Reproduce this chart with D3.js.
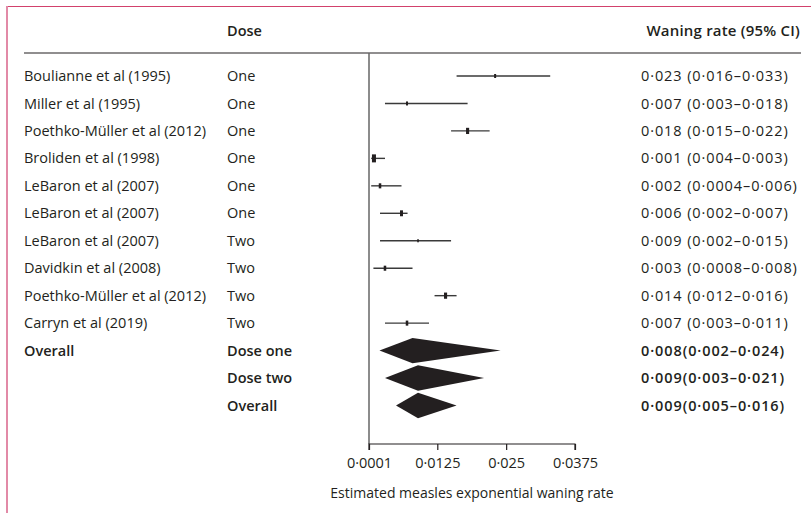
<!DOCTYPE html>
<html>
<head>
<meta charset="utf-8">
<script src="https://cdn.jsdelivr.net/npm/d3@7"></script>
<style>
  body { margin: 0; background: #fff; }
  text { font-family: "Open Sans", sans-serif; fill: #231f20; }
</style>
</head>
<body>
<div id="chart"></div>
<script>
// study rows
var studies = ["Boulianne et al (1995)", "Miller et al (1995)", "Poethko-Müller et al (2012)", "Broliden et al (1998)",
  "LeBaron et al (2007)", "LeBaron et al (2007)", "LeBaron et al (2007)", "Davidkin et al (2008)",
  "Poethko-Müller et al (2012)", "Carryn et al (2019)"];
var doses = ["One", "One", "One", "One", "One", "One", "Two", "Two", "Two", "Two"];
var estimates = [0.023, 0.007, 0.018, 0.001, 0.0021, 0.006, 0.009, 0.003, 0.014, 0.007];
var lower = [0.016, 0.003, 0.015, 0.0005, 0.0005, 0.0021, 0.0021, 0.0009, 0.012, 0.003];
var upper = [0.033, 0.018, 0.022, 0.003, 0.006, 0.0071, 0.015, 0.008, 0.016, 0.011];
var weights = [1, 1, 2.4, 4, 1.6, 2.2, 0.6, 1.6, 2.4, 1.6];
var rateLabels = ["0·023 (0·016–0·033)", "0·007 (0·003–0·018)", "0·018 (0·015–0·022)", "0·001 (0·004–0·003)",
  "0·002 (0·0004–0·006)", "0·006 (0·002–0·007)", "0·009 (0·002–0·015)", "0·003 (0·0008–0·008)",
  "0·014 (0·012–0·016)", "0·007 (0·003–0·011)"];

// pooled rows
var pooledNames = ["Dose one", "Dose two", "Overall"];
var pooledEst = [0.008, 0.009, 0.009];
var pooledLow = [0.002, 0.003, 0.005];
var pooledHigh = [0.024, 0.021, 0.016];
var pooledLabels = ["0·008(0·002–0·024)", "0·009(0·003–0·021)", "0·009(0·005–0·016)"];

var tickValues = [0.0001, 0.0125, 0.025, 0.0375];
var tickLabels = ["0·0001", "0·0125", "0·025", "0·0375"];

var width = 811, height = 513;
var fs = "14.5px";
var colStudy = 24, colDose = 227, colRate = 641;

var svg = d3.select("#chart").append("svg")
  .attr("width", width)
  .attr("height", height);

// frame
svg.append("line").attr("x1", 7).attr("x2", width).attr("y1", 6.5).attr("y2", 6.5)
  .attr("stroke", "#d2416c").attr("stroke-width", 1);
svg.append("line").attr("x1", 7).attr("x2", 7).attr("y1", 6).attr("y2", height)
  .attr("stroke", "#e28aa7").attr("stroke-width", 2);

var nRows = studies.length + pooledNames.length;
var yScale = d3.scalePoint()
  .domain(d3.range(nRows))
  .range([76, 405.5]);

var xScale = d3.scaleLinear()
  .domain([0.0001, 0.0375])
  .range([369, 575]);

// header
svg.append("text").attr("x", colDose).attr("y", 31).attr("dy", "0.35em")
  .style("font-size", fs).style("font-weight", "600").text("Dose");
svg.append("text").attr("x", 800).attr("y", 31).attr("dy", "0.35em").attr("text-anchor", "end")
  .style("font-size", "15px").style("font-weight", "600").style("letter-spacing", "0.2px")
  .text("Waning rate (95% CI)");
svg.append("line").attr("x1", 24).attr("x2", 801).attr("y1", 53).attr("y2", 53)
  .attr("stroke", "#231f20").attr("stroke-width", 1.2);

// vertical reference line
svg.append("line").attr("x1", xScale(0.0001)).attr("x2", xScale(0.0001))
  .attr("y1", 53).attr("y2", 444)
  .attr("stroke", "#666").attr("stroke-width", 1.5);

// x axis
var xAxis = d3.axisBottom(xScale)
  .tickValues(tickValues)
  .tickSize(6)
  .tickPadding(8)
  .tickFormat(function(d, i) { return tickLabels[i]; });

var axisG = svg.append("g")
  .attr("transform", "translate(0," + 444 + ")")
  .call(xAxis);
axisG.select(".domain").attr("stroke", "#231f20").attr("stroke-width", 1.2)
  .attr("d", "M" + xScale(0.0001) + ",6V0H" + xScale(0.0375) + "V6");
axisG.selectAll(".tick line").attr("stroke", "#231f20").attr("stroke-width", 1.2);
axisG.selectAll(".tick text").style("font-family", "'Open Sans', sans-serif").style("font-size", fs).attr("fill", "#231f20");

svg.append("text").attr("x", 472).attr("y", 493).attr("dy", "0.35em").attr("text-anchor", "middle")
  .style("font-size", "14px").text("Estimated measles exponential waning rate");

// study rows text
var rows = svg.selectAll(".study")
  .data(studies)
  .enter().append("g")
  .attr("class", "study");

rows.append("text").attr("x", colStudy).attr("y", function(d, i) { return yScale(i); }).attr("dy", "0.35em")
  .style("font-size", fs).text(function(d) { return d; });
rows.append("text").attr("x", colDose).attr("y", function(d, i) { return yScale(i); }).attr("dy", "0.35em")
  .style("font-size", fs).text(function(d, i) { return doses[i]; });
rows.append("text").attr("x", colRate).attr("y", function(d, i) { return yScale(i); }).attr("dy", "0.35em")
  .style("font-size", fs).style("letter-spacing", "0.9px").text(function(d, i) { return rateLabels[i]; });

// CI lines
rows.append("line")
  .attr("x1", function(d, i) { return xScale(lower[i]); })
  .attr("x2", function(d, i) { return xScale(upper[i]); })
  .attr("y1", function(d, i) { return yScale(i); })
  .attr("y2", function(d, i) { return yScale(i); })
  .attr("stroke", "#3a3a3a").attr("stroke-width", 1.4);

var sizeScale = d3.scaleSqrt().domain([0, 4]).range([0, 8]);
rows.append("rect")
  .attr("x", function(d, i) { return xScale(estimates[i]) - Math.max(1.5, sizeScale(weights[i]) / 2) / 2; })
  .attr("y", function(d, i) { return yScale(i) - sizeScale(weights[i]) / 2; })
  .attr("width", function(d, i) { return Math.max(1.5, sizeScale(weights[i]) / 2); })
  .attr("height", function(d, i) { return sizeScale(weights[i]); })
  .attr("fill", "#231f20");

// pooled rows
var offset = studies.length;
svg.append("text").attr("x", colStudy).attr("y", yScale(offset)).attr("dy", "0.35em")
  .style("font-size", fs).style("font-weight", "600").text("Overall");

var pooled = svg.selectAll(".pooled")
  .data(pooledNames)
  .enter().append("g")
  .attr("class", "pooled");

pooled.append("text").attr("x", colDose).attr("y", function(d, i) { return yScale(offset + i); }).attr("dy", "0.35em")
  .style("font-size", fs).style("font-weight", "600").text(function(d) { return d; });
pooled.append("text").attr("x", colRate).attr("y", function(d, i) { return yScale(offset + i); }).attr("dy", "0.35em")
  .style("font-size", fs).style("font-weight", "600").style("letter-spacing", "0.9px")
  .text(function(d, i) { return pooledLabels[i]; });

var halfH = 12.7;
pooled.append("path")
  .attr("d", function(d, i) {
    var y = yScale(offset + i);
    return "M" + xScale(pooledLow[i]) + "," + y +
      "L" + xScale(pooledEst[i]) + "," + (y - halfH) +
      "L" + xScale(pooledHigh[i]) + "," + y +
      "L" + xScale(pooledEst[i]) + "," + (y + halfH) + "Z";
  })
  .attr("fill", "#231f20");
</script>
</body>
</html>
